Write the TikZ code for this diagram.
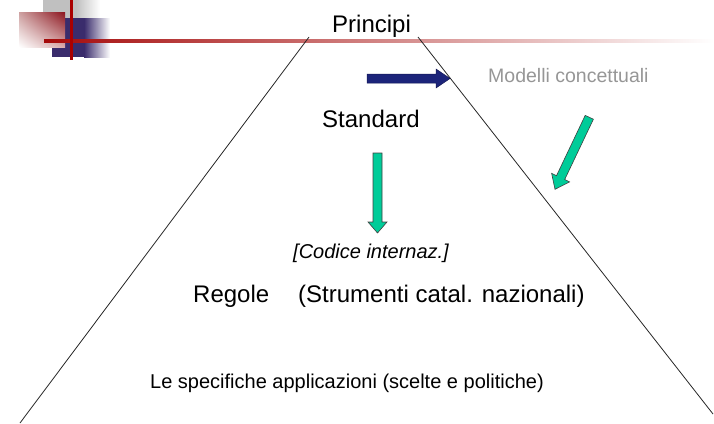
\documentclass[tikz,border=0pt]{standalone}
\usepackage{fontspec}
\setmainfont{Liberation Sans}
\usetikzlibrary{shadings}
\definecolor{navyarrow}{RGB}{28,36,122}
\definecolor{greenarrow}{RGB}{0,204,153}
\definecolor{logored}{RGB}{170,0,0}
\definecolor{logopurple}{RGB}{58,44,108}
\definecolor{logogray}{RGB}{192,192,192}
\definecolor{textgray}{RGB}{150,150,150}
\definecolor{squr}{RGB}{140,20,30}
\definecolor{squl}{RGB}{205,160,160}
\definecolor{sqlr}{RGB}{215,170,170}
\definecolor{linered}{RGB}{165,10,10}
\tikzset{
  big/.style={font=\fontsize{24}{28}\selectfont, inner sep=0pt, anchor=base west},
  small/.style={font=\fontsize{20}{24}\selectfont, inner sep=0pt, anchor=base west},
  pyrline/.style={draw=black!85, line width=0.8pt},
  greenarr/.style={fill=greenarrow, draw=black!75, line width=0.6pt, line join=miter},
  navyarr/.style={fill=navyarrow, draw=navyarrow!70!black, line width=0.5pt}
}
\begin{document}
\begin{tikzpicture}[x=1pt,y=-1pt]
\useasboundingbox (0,0) rectangle (714,423);
% logo
\fill[logogray] (43,0) rectangle (76,18);
\shade[left color=logogray, right color=white] (76,0) rectangle (100,18);
\fill[logopurple] (52,18) rectangle (84,57);
\shade[left color=logopurple, right color=white] (84,18) rectangle (110,57);
\shade[upper right=squr, upper left=squl, lower right=sqlr, lower left=white] (19,12) rectangle (65,47);
\shade[left color=linered, right color=white] (44,39) rectangle (714,42);
\fill[logored] (70,0) rectangle (73,60);
% pyramid
\coordinate (lt) at (309,37);
\coordinate (lb) at (20,423);
\coordinate (rt) at (418,37);
\coordinate (rb) at (713,414);
\draw[pyrline] (lt) -- (lb);
\draw[pyrline] (rt) -- (rb);
% texts
\node[big] (principi) at (332,32) {Principi};
\node[small, text=textgray, font=\fontsize{19.5}{23}\selectfont] (modelli) at (488,82) {Modelli concettuali};
\node[big] (standard) at (322,127) {Standard};
\node[small, font=\fontsize{20}{24}\itshape] (codice) at (293,258) {[Codice internaz.]};
\node[big] (regole) at (193,302) {Regole\hspace{29pt}(Strumenti catal. nazionali)};
\node[small] (spec) at (150,388) {Le specifiche applicazioni (scelte e politiche)};
% navy arrow
\filldraw[navyarr] (367,74) -- (436,74) -- (436,69) -- (450,78.5) -- (436,88) -- (436,83) -- (367,83) -- cycle;
% vertical green arrow
\filldraw[greenarr] (373,153) -- (382,153) -- (382,222) -- (387,222) -- (377.5,233) -- (368,222) -- (373,222) -- cycle;
% diagonal green arrow
\filldraw[greenarr] (593.4,119.2) -- (564.7,179.5) -- (569.6,181.9) -- (555,189.3) -- (551.6,173.3) -- (556.5,175.7) -- (585.2,115.4) -- cycle;
\end{tikzpicture}
\end{document}
